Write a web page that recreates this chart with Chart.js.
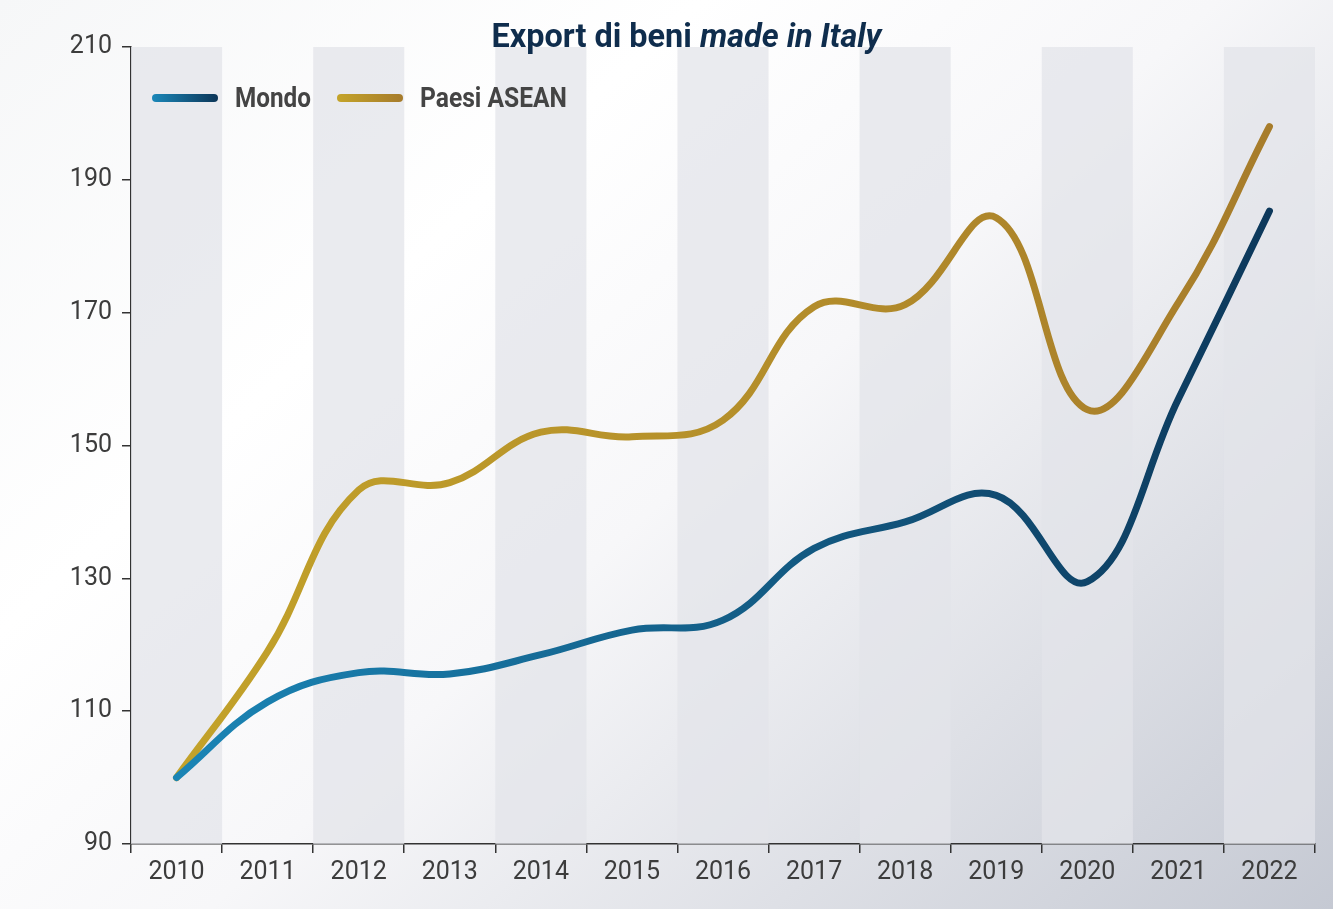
<!DOCTYPE html>
<html>
<head>
<meta charset="utf-8">
<script src="https://cdn.jsdelivr.net/npm/chart.js@4"></script>
<style>
  html, body { margin: 0; padding: 0; }
  body {
    width: 1333px; height: 909px; overflow: hidden; position: relative;
    background: linear-gradient(138deg, #f6f7f8 0%, #ffffff 30%, #f7f7f9 52%, #c5c9d3 100%);
    font-family: Roboto, sans-serif;
  }
  #wrap { position: absolute; left: 0; top: 0; width: 1333px; height: 909px; }
  #title {
    position: absolute; top: 15px; left: 0; width: 1372px; text-align: center;
    font-size: 34px; font-weight: 700; color: #0f2d4d; white-space: nowrap;
  }
  #title span.inner { display: inline-block; transform-origin: center; }
  #legend { position: absolute; top: 82px; left: 150px; font-size: 27px; font-weight: 700; color: #444; }
  .item { position: absolute; top: 0; white-space: nowrap; }
  .swatch { position: absolute; top: 12px; height: 8px; width: 66px; border-radius: 4px; }
  .lbl { position: absolute; top: 0; display: inline-block; transform-origin: left center; }
</style>
</head>
<body>
<div id="wrap"><canvas id="exportChart" width="1333" height="909"></canvas></div>
<div id="title"><span class="inner">Export di beni <i>made in Italy</i></span></div>
<div id="legend"></div>
<script>
const years = ['2010','2011','2012','2013','2014','2015','2016','2017','2018','2019','2020','2021','2022'];
const mondo = [100, 111.4, 115.8, 115.6, 118.5, 122.2, 123.7, 134.5, 138.5, 142.5, 129.5, 157, 185.3];
const asean = [100, 119, 143.3, 144.4, 152, 151.3, 153.8, 170.9, 171.2, 184.3, 155.4, 171.5, 198];
const yTicks = [90, 110, 130, 150, 170, 190, 210];

const seriesNames = ['Mondo', 'Paesi ASEAN'];
const seriesColors = [['#1b88b9', '#0c3557'], ['#c4a42a', '#a67b2b']];

function strokeGradient(idx) {
  return (ctx) => {
    const area = ctx.chart.chartArea;
    if (!area) return seriesColors[idx][0];
    const g = ctx.chart.ctx.createLinearGradient(area.left, 0, area.right, 0);
    g.addColorStop(0, seriesColors[idx][0]);
    g.addColorStop(1, seriesColors[idx][1]);
    return g;
  };
}

// alternating vertical bands behind the lines
const bands = {
  id: 'bands',
  beforeDatasetsDraw(chart) {
    const { ctx, chartArea, scales } = chart;
    const x = scales.x;
    const half = (x.getPixelForValue(1) - x.getPixelForValue(0)) / 2;
    ctx.save();
    ctx.fillStyle = 'rgba(226,228,234,0.74)';
    years.forEach((y, i) => {
      if (i % 2 === 0) {
        const c = x.getPixelForValue(i);
        ctx.fillRect(c - half, chartArea.top, half * 2, chartArea.bottom - chartArea.top);
      }
    });
    ctx.restore();
  }
};

const ctx = document.getElementById('exportChart').getContext('2d');
new Chart(ctx, {
  type: 'line',
  data: {
    labels: years,
    datasets: [
      { label: seriesNames[0], data: mondo, borderColor: strokeGradient(0), borderWidth: 7,
        borderCapStyle: 'round', pointRadius: 0, tension: 0.4, fill: false },
      { label: seriesNames[1], data: asean, borderColor: strokeGradient(1), borderWidth: 7,
        borderCapStyle: 'round', pointRadius: 0, tension: 0.4, fill: false }
    ]
  },
  options: {
    responsive: false,
    animation: false,
    layout: { padding: { top: 47, right: 18, left: 0, bottom: 0 } },
    plugins: { legend: { display: false }, tooltip: { enabled: false } },
    scales: {
      x: {
        offset: true,
        grid: { offset: true, drawOnChartArea: false, color: '#333', lineWidth: 1.5, tickLength: 9, tickColor: '#333' },
        border: { color: '#333', width: 1.5 },
        ticks: { color: '#3c3c3c', font: { family: 'Roboto', size: 25 }, padding: 5, maxRotation: 0 },
        afterFit(s) { s.height = 65; }
      },
      y: {
        min: 90, max: 210,
        afterBuildTicks(s) { s.ticks = yTicks.map(v => ({ value: v })); },
        grid: { drawOnChartArea: false, color: '#333', lineWidth: 1.5, tickLength: 9, tickColor: '#333' },
        border: { color: '#333', width: 1.5 },
        ticks: { color: '#3c3c3c', font: { family: 'Roboto', size: 25 }, padding: 10 },
        afterFit(s) { s.width = 131; }
      }
    }
  },
  plugins: [bands]
});

// HTML legend
const legend = document.getElementById('legend');
const legendX = [0, 185];
const labelWidths = [76, 147];
seriesNames.forEach((name, i) => {
  const item = document.createElement('div');
  item.className = 'item';
  item.style.left = legendX[i] + 'px';
  const sw = document.createElement('span');
  sw.className = 'swatch';
  sw.style.left = '2px';
  sw.style.background = `linear-gradient(90deg, ${seriesColors[i][0]}, ${seriesColors[i][1]})`;
  const lb = document.createElement('span');
  lb.className = 'lbl';
  lb.style.left = '85px';
  lb.textContent = name;
  item.appendChild(sw);
  item.appendChild(lb);
  legend.appendChild(item);
  const w = lb.getBoundingClientRect().width;
  lb.style.transform = `scaleX(${labelWidths[i] / w})`;
});
const t = document.querySelector('#title .inner');
t.style.transform = `scaleX(${390 / t.getBoundingClientRect().width})`;
</script>
</body>
</html>
